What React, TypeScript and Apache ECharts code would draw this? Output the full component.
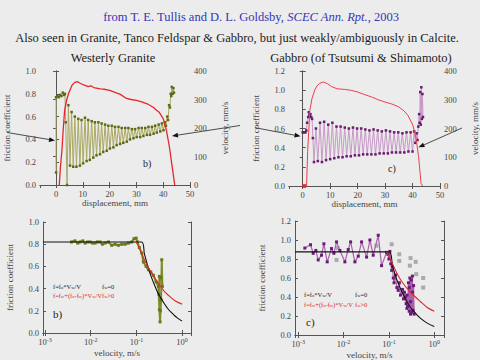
import React, { useEffect, useRef } from 'react';
import * as echarts from 'echarts';

const FONT = '"Liberation Serif", "Times New Roman", serif';

// ---------- Panel b (top-left): Westerly Granite, friction vs displacement ----------
const graniteFriction: [number, number][] = [
  [0, 0.11], [0, 0.77], [0.5, 0.78], [1.0, 0.77], [1.5, 0.79], [2.0, 0.78], [2.5, 0.81], [3.0, 0.79], [3.3, 0.8],
  [3.6, 0.55], [4.1, 0.0], [4.6, 0.7], [5.2, 0.17], [5.8, 0.64], [6.4, 0.16], [7.0, 0.6], [7.6, 0.16], [8.3, 0.58],
  [8.9, 0.17], [9.5, 0.57], [10.1, 0.19], [10.8, 0.59], [11.4, 0.21], [12.0, 0.57], [12.6, 0.22], [13.3, 0.56],
  [13.9, 0.24], [14.5, 0.55], [15.1, 0.26], [15.8, 0.55], [16.4, 0.27], [17.0, 0.54], [17.6, 0.29], [18.3, 0.53],
  [18.9, 0.3], [19.5, 0.52], [20.1, 0.32], [20.8, 0.52], [21.4, 0.33], [22.0, 0.51], [22.6, 0.35], [23.3, 0.51],
  [23.9, 0.36], [24.5, 0.5], [25.1, 0.37], [25.8, 0.5], [26.4, 0.38], [27.0, 0.5], [27.6, 0.4], [28.3, 0.49],
  [28.9, 0.41], [29.5, 0.49], [30.1, 0.42], [30.8, 0.5], [31.4, 0.42], [32.0, 0.5], [32.6, 0.43], [33.3, 0.5],
  [33.9, 0.44], [34.5, 0.51], [35.1, 0.44], [35.8, 0.51], [36.4, 0.45], [37.0, 0.52], [37.6, 0.46], [38.3, 0.53],
  [38.9, 0.47], [39.5, 0.54], [40.1, 0.48], [40.6, 0.55], [41.0, 0.52], [41.5, 0.6], [41.8, 0.57], [42.2, 0.7],
  [42.5, 0.68], [42.8, 0.8], [43.0, 0.78], [43.2, 0.86], [43.5, 0.8], [43.8, 0.85], [44.0, 0.81],
];
const graniteVelocity: [number, number][] = [
  [1.2, 0], [1.6, 60], [2.2, 123], [2.7, 200], [3.2, 263], [4.0, 300], [4.7, 322], [6.0, 351], [7.0, 360],
  [7.9, 363], [9.0, 357], [10.3, 351], [12.0, 345], [13.0, 348], [14.0, 342], [16.6, 337], [18.0, 336],
  [20.0, 332], [22.0, 325], [24.0, 318], [26.0, 305], [28.0, 300], [30.0, 297], [32.0, 292], [34.0, 285],
  [35.0, 280], [36.5, 271], [37.5, 262], [38.5, 255], [40.0, 233], [41.2, 192], [42.0, 150], [42.5, 122],
  [43.1, 80], [43.7, 41], [44.3, 0],
];

// ---------- Panel c (top-right): Gabbro, friction vs displacement ----------
const gabbroFriction: [number, number][] = [
  [0, 0.56], [0.5, 0.56], [1.0, 0.56], [1.3, 0.58], [1.6, 0.66], [2.0, 0.72], [2.2, 0.77], [2.5, 0.74],
  [2.8, 0.75], [3.1, 0.72], [3.4, 0.7], [3.7, 0.5], [4.1, 0.25], [4.8, 0.6], [5.5, 0.26], [6.3, 0.66],
  [7.0, 0.25], [7.8, 0.67], [8.5, 0.27], [9.3, 0.64], [10.0, 0.28], [10.8, 0.66], [11.5, 0.29], [12.3, 0.62],
  [13.0, 0.3], [13.8, 0.62], [14.5, 0.3], [15.3, 0.61], [16.0, 0.31], [16.8, 0.6], [17.5, 0.31], [18.3, 0.61],
  [19.0, 0.32], [19.8, 0.6], [20.5, 0.32], [21.3, 0.6], [22.0, 0.33], [22.8, 0.59], [23.5, 0.33], [24.3, 0.58],
  [25.0, 0.33], [25.8, 0.59], [26.5, 0.33], [27.3, 0.58], [28.0, 0.34], [28.8, 0.57], [29.5, 0.34], [30.3, 0.58],
  [31.0, 0.34], [31.8, 0.57], [32.5, 0.35], [33.3, 0.56], [34.0, 0.35], [34.8, 0.56], [35.5, 0.35], [36.3, 0.55],
  [37.0, 0.35], [37.8, 0.56], [38.5, 0.36], [39.3, 0.56], [40.0, 0.36], [40.6, 0.57], [41.0, 0.45], [41.5, 0.55],
  [41.8, 0.48], [42.1, 0.62], [42.4, 0.75], [42.6, 0.66], [42.8, 0.98], [43.0, 0.64], [43.2, 1.03], [43.4, 0.7],
  [43.6, 0.96], [43.8, 0.72],
];
const gabbroVelocity: [number, number][] = [
  [0.5, 0], [1.4, 0], [1.8, 120], [2.6, 264], [3.4, 305], [4.4, 334], [5.2, 348], [6.2, 357], [7.5, 362],
  [9.0, 356], [10.5, 346], [12.5, 338], [15.3, 336], [17.5, 333], [20.0, 327], [22.5, 318], [25.0, 310],
  [27.5, 300], [30.0, 292], [32.5, 285], [35.0, 275], [36.8, 262], [38.3, 246], [40.1, 212], [41.3, 165],
  [42.2, 102], [42.7, 50], [43.1, 9], [43.7, 0],
];
const gabbroStart: [number, number][] = [[0.5, 0]];

// ---------- Bottom-left: granite friction vs velocity ----------
const graniteModelBlack: [number, number][] = [
  [0.0009, 0.82], [0.13, 0.82], [0.15, 0.71], [0.2, 0.535], [0.25, 0.43], [0.3, 0.357], [0.4, 0.27],
  [0.5, 0.214], [0.6, 0.18], [0.7, 0.153], [0.8, 0.134], [1.0, 0.107],
];
const graniteModelRed: [number, number][] = [
  [0.1, 0.82], [0.12, 0.75], [0.15, 0.66], [0.2, 0.56], [0.3, 0.45], [0.4, 0.38], [0.5, 0.34], [0.7, 0.29],
  [1.0, 0.26],
];
const graniteVF: [number, number][] = [
  [0.0038, 0.82], [0.0045, 0.83], [0.0052, 0.81], [0.0058, 0.82], [0.0067, 0.83], [0.0075, 0.81], [0.0085, 0.82],
  [0.0097, 0.82], [0.011, 0.81], [0.0124, 0.81], [0.014, 0.82], [0.016, 0.82], [0.018, 0.8], [0.0206, 0.81],
  [0.0244, 0.82], [0.0288, 0.79], [0.0341, 0.8], [0.0404, 0.79], [0.0478, 0.8], [0.0565, 0.8], [0.0668, 0.81],
  [0.0791, 0.82], [0.0889, 0.85], [0.0984, 0.855], [0.105, 0.82], [0.116, 0.77], [0.131, 0.72], [0.142, 0.64],
  [0.163, 0.6], [0.183, 0.57], [0.206, 0.55], [0.236, 0.52], [0.27, 0.46], [0.303, 0.42], [0.319, 0.21],
  [0.33, 0.1], [0.347, 0.3], [0.359, 0.66], [0.371, 0.42], [0.34, 0.5], [0.319, 0.51], [0.31, 0.35], [0.335, 0.2],
];

// ---------- Bottom-right: gabbro friction vs velocity ----------
const gabbroModelBlack: [number, number][] = [
  [0.00085, 0.875], [0.1, 0.875], [0.12, 0.73], [0.15, 0.58], [0.2, 0.44], [0.3, 0.29], [0.4, 0.22],
  [0.5, 0.175], [0.7, 0.125], [1.0, 0.09],
];
const gabbroModelRed: [number, number][] = [
  [0.09, 0.88], [0.12, 0.75], [0.15, 0.65], [0.2, 0.55], [0.3, 0.45], [0.5, 0.35], [0.7, 0.29], [1.0, 0.25],
];
const gabbroVF: [number, number][] = [
  [0.0014, 0.915], [0.00187, 0.95], [0.00214, 0.86], [0.00245, 0.89], [0.00276, 0.79], [0.00327, 0.84],
  [0.00368, 0.96], [0.00436, 0.77], [0.00543, 0.91], [0.00612, 0.86], [0.00701, 0.98], [0.0083, 0.89],
  [0.0107, 0.77], [0.0127, 0.9], [0.0143, 0.98], [0.0178, 0.77], [0.0211, 0.83], [0.025, 0.98], [0.0322, 0.82],
  [0.0381, 1.0], [0.0451, 0.84], [0.0582, 1.05], [0.0689, 0.73], [0.0889, 0.87], [0.095, 0.85], [0.1, 0.8],
  [0.105, 0.88], [0.11, 0.75], [0.115, 0.68], [0.12, 0.72], [0.125, 0.6], [0.13, 0.55], [0.14, 0.63],
  [0.15, 0.5], [0.16, 0.47], [0.17, 0.55], [0.18, 0.42], [0.2, 0.48], [0.21, 0.38], [0.22, 0.45], [0.24, 0.33],
  [0.25, 0.42], [0.26, 0.3], [0.27, 0.55], [0.28, 0.25], [0.29, 0.6], [0.3, 0.22], [0.31, 0.58], [0.32, 0.24],
  [0.33, 0.62], [0.34, 0.26], [0.35, 0.52], [0.36, 0.22], [0.33, 0.45], [0.3, 0.35], [0.28, 0.5], [0.25, 0.28],
  [0.23, 0.4],
];
const gabbroGray: [number, number][] = [
  [0.0074, 0.915], [0.007, 0.79], [0.053, 0.94], [0.115, 0.955], [0.169, 0.85], [0.169, 0.78], [0.3, 0.81],
  [0.29, 0.73], [0.39, 0.77], [0.4, 0.64], [0.57, 0.6], [0.57, 0.5],
];

const AX = '#555';
const LBL = '#444';

function baseAxis(extra: any) {
  return {
    axisLine: { show: true, lineStyle: { color: AX, width: 1 } },
    axisTick: { show: true, inside: true, length: 3, lineStyle: { color: AX } },
    splitLine: { show: false },
    nameTextStyle: { color: LBL, fontSize: 9, fontFamily: FONT },
    ...extra,
    axisLabel: { color: LBL, fontSize: 8.5, fontFamily: FONT, margin: 4, ...(extra.axisLabel || {}) },
  };
}

const logLabel = {
  formatter: (v: number) => `{b|10}{s|${Math.round(Math.log10(v))}}`,
  showMinLabel: false,
  showMaxLabel: false,
  rich: {
    b: { fontSize: 8.5, fontFamily: FONT, color: LBL },
    s: { fontSize: 6, fontFamily: FONT, color: LBL, verticalAlign: 'top' },
  },
};

function arrow(x1: number, y1: number, x2: number, y2: number) {
  const dx = x2 - x1, dy = y2 - y1, L = Math.hypot(dx, dy);
  const ux = dx / L, uy = dy / L, hl = 6, hw = 2.4;
  const bx = x2 - ux * hl, by = y2 - uy * hl;
  return [
    { type: 'line', silent: true, shape: { x1, y1, x2: bx, y2: by }, style: { stroke: '#222', lineWidth: 0.8 } },
    { type: 'polygon', silent: true, shape: { points: [[x2, y2], [bx - uy * hw, by + ux * hw], [bx + uy * hw, by - ux * hw]] }, style: { fill: '#111' } },
  ];
}

function txt(x: number, y: number, text: string, size: number, fill = '#222', align = 'left', rich?: any) {
  return {
    type: 'text', x, y, silent: true,
    style: { text, fill, fontSize: size, fontFamily: FONT, textAlign: align, textVerticalAlign: 'middle', rich },
  };
}

const legRich = (c: string) => ({
  s: { fontSize: 4.5, fontFamily: FONT, fill: c, color: c, verticalAlign: 'bottom' },
});

const leftName = (name: string) => ({ name, nameLocation: 'middle', nameGap: 29, nameRotate: 90 });
const rightName = (name: string) => ({ name, nameLocation: 'middle', nameGap: 30, nameRotate: 90 });

export default function App() {
  const ref = useRef<HTMLDivElement>(null);
  useEffect(() => {
    if (!ref.current) return;
    const chart = echarts.init(ref.current, undefined, { renderer: 'svg' });
    const grids = [
      { left: 40, top: 71, width: 150, height: 114 },
      { left: 289, top: 71, width: 151, height: 115 },
      { left: 43, top: 222, width: 148, height: 111 },
      { left: 295, top: 221, width: 149, height: 114 },
    ];
    const xName = { nameLocation: 'middle', nameGap: 13 };
    const fmt1 = { formatter: (v: number) => v.toFixed(1) };
    const option: any = {
      animation: false,
      backgroundColor: '#ececec',
      grid: grids.map((g) => ({ ...g, containLabel: false })),
      xAxis: [
        baseAxis({ type: 'value', gridIndex: 0, min: -6, max: 50, position: 'bottom', name: 'displacement, mm', ...xName, axisLabel: { showMinLabel: false } }),
        baseAxis({ type: 'value', gridIndex: 0, min: -6, max: 50, position: 'top', axisLabel: { show: false } }),
        baseAxis({ type: 'value', gridIndex: 1, min: -5, max: 50, position: 'bottom', name: 'displacement, mm', ...xName, axisLabel: { showMinLabel: false } }),
        baseAxis({ type: 'value', gridIndex: 1, min: -5, max: 50, position: 'top', axisLabel: { show: false } }),
        baseAxis({ type: 'log', logBase: 10, gridIndex: 2, min: 0.0009, max: 1.57, position: 'bottom', name: 'velocity, m/s', nameLocation: 'middle', nameGap: 15, axisLabel: logLabel }),
        baseAxis({ type: 'log', logBase: 10, gridIndex: 2, min: 0.0009, max: 1.57, position: 'top', axisLabel: { show: false } }),
        baseAxis({ type: 'log', logBase: 10, gridIndex: 3, min: 0.00085, max: 1.64, position: 'bottom', name: 'velocity, m/s', nameLocation: 'middle', nameGap: 15, axisLabel: logLabel }),
        baseAxis({ type: 'log', logBase: 10, gridIndex: 3, min: 0.00085, max: 1.64, position: 'top', axisLabel: { show: false } }),
      ],
      yAxis: [
        baseAxis({ type: 'value', gridIndex: 0, min: 0, max: 1, interval: 0.2, position: 'left', ...leftName('friction coefficient'), axisLabel: fmt1 }),
        baseAxis({ type: 'value', gridIndex: 0, min: 0, max: 400, interval: 100, position: 'right', ...rightName('velocity, mm/s') }),
        baseAxis({ type: 'value', gridIndex: 1, min: 0, max: 1.2, interval: 0.2, position: 'left', ...leftName('friction coefficient'), axisLabel: fmt1 }),
        baseAxis({ type: 'value', gridIndex: 1, min: 0, max: 400, interval: 100, position: 'right', ...rightName('velocity, mm/s') }),
        baseAxis({ type: 'value', gridIndex: 2, min: 0, max: 1, interval: 0.2, position: 'left', ...leftName('friction coefficient'), axisLabel: fmt1 }),
        baseAxis({ type: 'value', gridIndex: 2, min: 0, max: 1, interval: 0.2, position: 'right', axisLabel: { show: false } }),
        baseAxis({ type: 'value', gridIndex: 3, min: 0, max: 1.2, interval: 0.2, position: 'left', ...leftName('friction coefficient'), axisLabel: fmt1 }),
        baseAxis({ type: 'value', gridIndex: 3, min: 0, max: 1.2, interval: 0.2, position: 'right', axisLabel: { show: false } }),
      ],
      series: [
        { type: 'line', xAxisIndex: 0, yAxisIndex: 0, data: graniteFriction, symbol: 'rect', symbolSize: 2.5, lineStyle: { color: '#a9a862', width: 1 }, itemStyle: { color: '#5e6b14' }, z: 2 },
        { type: 'line', xAxisIndex: 0, yAxisIndex: 1, data: graniteVelocity, symbol: 'none', lineStyle: { color: '#e8262a', width: 1.3 }, z: 3 },
        { type: 'line', xAxisIndex: 2, yAxisIndex: 2, data: gabbroFriction, symbol: 'rect', symbolSize: 2.5, lineStyle: { color: '#c79ac7', width: 1 }, itemStyle: { color: '#6a1a70' }, z: 2 },
        { type: 'line', xAxisIndex: 2, yAxisIndex: 3, data: gabbroVelocity, symbol: 'none', lineStyle: { color: '#e8404a', width: 1 }, z: 3 },
        { type: 'scatter', xAxisIndex: 2, yAxisIndex: 3, data: gabbroStart, symbol: 'rect', symbolSize: 4, itemStyle: { color: '#e02020' }, z: 4 },
        { type: 'line', xAxisIndex: 4, yAxisIndex: 4, data: graniteVF, symbol: 'rect', symbolSize: 3, lineStyle: { color: '#7f8a2a', width: 2 }, itemStyle: { color: '#6b7a18' }, z: 2 },
        { type: 'line', xAxisIndex: 4, yAxisIndex: 4, data: graniteModelBlack, symbol: 'none', smooth: 0.3, lineStyle: { color: '#111', width: 1.1 }, z: 3 },
        { type: 'line', xAxisIndex: 4, yAxisIndex: 4, data: graniteModelRed, symbol: 'none', smooth: 0.3, lineStyle: { color: '#e02828', width: 1.1 }, z: 3 },
        { type: 'scatter', xAxisIndex: 6, yAxisIndex: 6, data: gabbroGray, symbol: 'rect', symbolSize: 4, itemStyle: { color: '#9a9a9a' }, z: 1 },
        { type: 'line', xAxisIndex: 6, yAxisIndex: 6, data: gabbroVF, symbol: 'rect', symbolSize: 3, lineStyle: { color: '#a862a8', width: 1.2 }, itemStyle: { color: '#6a1a78' }, z: 2 },
        { type: 'line', xAxisIndex: 6, yAxisIndex: 6, data: gabbroModelBlack, symbol: 'none', smooth: 0.3, lineStyle: { color: '#111', width: 1.1 }, z: 3 },
        { type: 'line', xAxisIndex: 6, yAxisIndex: 6, data: gabbroModelRed, symbol: 'none', smooth: 0.3, lineStyle: { color: '#e02828', width: 1.1 }, z: 3 },
      ],
      graphic: [
        txt(251, 17, 'from T. E. Tullis and D. L. Goldsby, {i|SCEC Ann. Rpt.}, 2003', 12.5, '#3535b5', 'center', {
          i: { fontStyle: 'italic', fontSize: 12.5, fontFamily: FONT, fill: '#3535b5', color: '#3535b5' },
        }),
        txt(237, 38, 'Also seen in Granite, Tanco Feldspar & Gabbro, but just weakly/ambiguously in Calcite.', 12.5, '#222', 'center'),
        txt(113, 58, 'Westerly Granite', 12.5, '#222', 'center'),
        txt(361, 58, 'Gabbro (of Tsutsumi & Shimamoto)', 12.5, '#222', 'center'),
        txt(143, 163, 'b)', 10, '#222'),
        txt(388, 168, 'c)', 10, '#222'),
        txt(53, 314, 'b)', 11, '#222'),
        txt(306, 322, 'c)', 11, '#222'),
        txt(53, 286, 'f=f{s|o}*V{s|w}/V', 6.5, '#222', 'left', legRich('#222')),
        txt(102, 286, 'f{s|w}=0', 6.5, '#222', 'left', legRich('#222')),
        txt(53, 295.5, 'f=f{s|w}+(f{s|o}-f{s|w})*V{s|w}/V', 6.5, '#e02828', 'left', legRich('#e02828')),
        txt(102, 295.5, 'f{s|w}>0', 6.5, '#e02828', 'left', legRich('#e02828')),
        txt(304, 294, 'f=f{s|o}*V{s|w}/V', 6.5, '#222', 'left', legRich('#222')),
        txt(355, 294, 'f{s|w}=0', 6.5, '#222', 'left', legRich('#222')),
        txt(304, 304, 'f=f{s|w}+(f{s|o}-f{s|w})*V{s|w}/V', 6.5, '#e02828', 'left', legRich('#e02828')),
        txt(355, 304, 'f{s|w}>0', 6.5, '#e02828', 'left', legRich('#e02828')),
        ...arrow(7, 132.5, 55, 140.5),
        ...arrow(240, 125.5, 172, 136),
        ...arrow(255, 127.7, 300.5, 136.3),
        ...arrow(462, 128, 418.5, 147.3),
      ],
    };
    chart.setOption(option);
    return () => chart.dispose();
  }, []);
  return <div ref={ref} style={{ position: 'absolute', left: 0, top: 0, width: 480, height: 360, background: '#ececec' }} />;
}
